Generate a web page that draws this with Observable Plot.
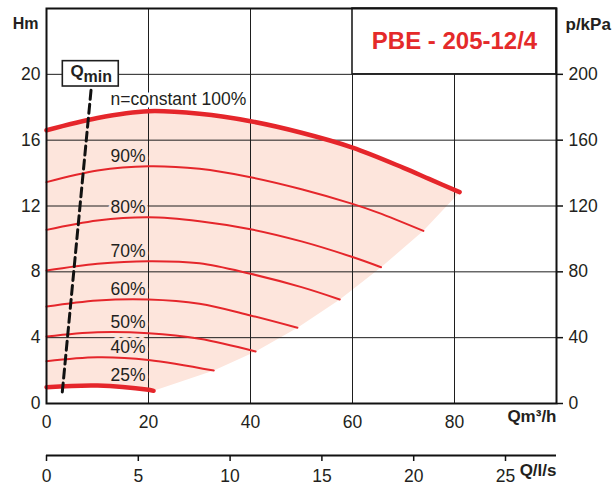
<!DOCTYPE html>
<html><head><meta charset="utf-8">
<script src="https://cdn.jsdelivr.net/npm/d3@7"></script>
<script src="https://cdn.jsdelivr.net/npm/@observablehq/plot@0.6"></script>
<style>body{margin:0;background:#fff;} svg{display:block}</style>
</head><body><div id="chart"></div>
<script>
// ---- data ----
const flowTicks = [0, 20, 40, 60, 80];          // Q m³/h
const litreTicks = [0, 5, 10, 15, 20, 25];      // Q l/s
const headTicks = [0, 4, 8, 12, 16, 20];        // H m
const kpaTicks = [0, 40, 80, 120, 160, 200];    // p kPa
const speedLabels = ["100%", "90%", "80%", "70%", "60%", "50%", "40%", "25%"];

// pump curves [Q m³/h, H m]
const curve100 = [[0,16.6],[10,17.35],[20,17.76],[30,17.6],[40,17.15],[50,16.45],[60,15.55],[70,14.32],[75,13.65],[81,12.84]];
const curve90  = [[0,13.45],[10,14.16],[20,14.42],[30,14.26],[40,13.75],[50,13.02],[60,12.13],[65,11.6],[73.9,10.49]];
const curve80  = [[0,10.55],[10,11.12],[20,11.32],[30,11.08],[40,10.59],[50,9.85],[60,8.9],[65.6,8.28]];
const curve70  = [[0,8.08],[10,8.49],[20,8.65],[30,8.52],[40,7.88],[50,7.07],[57.5,6.32]];
const curve60  = [[0,5.89],[10,6.26],[20,6.32],[30,6.06],[40,5.35],[49.2,4.6]];
const curve50  = [[0,4.07],[10,4.33],[20,4.27],[30,3.93],[41,3.16]];
const curve40  = [[0,2.57],[10,2.81],[20,2.65],[32.8,2.0]];
const curve25  = [[0,0.99],[10,1.09],[20,0.83],[21,0.77]];
// Qmin line [Q, H]
const qminLine = [[3.1,0.7],[8.8,19.26]];

const curves = [curve100, curve90, curve80, curve70, curve60, curve50, curve40, curve25];
const lineData = curves.flatMap((c, i) => c.map(([q, h]) => ({q, h, speed: speedLabels[i], thick: i === 0 || i === curves.length - 1})));

// pink operating area: top curve, end points of the reduced curves, lowest curve back
const poly = [
  ...curve100,
  ...curves.slice(1).map(c => c[c.length - 1]),
  ...curve25.slice(0, -1).reverse()
].map(([q, h]) => ({q, h}));

const labelData = curves.slice(1).map((c, i) => ({t: speedLabels[i + 1], h: d3.max(c, d => d[1])}));
const topLabel = [{t: "n=constant 100%", h: d3.max(curve100, d => d[1])}];

const RED = "#e5262b", PINK = "#fde5dc", INK = "#231f20", GRID = "#1e1e1e";
const FONT = "'Liberation Sans', Arial, Helvetica, sans-serif";

const chart = Plot.plot({
  width: 612, height: 486,
  marginLeft: 46, marginRight: 56, marginTop: 8, marginBottom: 83,
  x: {domain: [0, 100], axis: null},
  y: {domain: [0, 24], axis: null},
  style: {fontFamily: FONT, fontSize: "17.5px", color: INK, background: "#fff"},
  marks: [
    Plot.line(poly, {x: "q", y: "h", fill: PINK, stroke: "none", curve: "linear"}),
    Plot.gridX(flowTicks.slice(1), {stroke: GRID, strokeOpacity: 1, strokeWidth: 1}),
    Plot.gridY(headTicks.slice(1), {stroke: GRID, strokeOpacity: 1, strokeWidth: 1}),
    // PBE box
    Plot.rect([{}], {x1: 60, x2: 100, y1: 20, y2: 24, fill: "#fff", stroke: GRID, strokeWidth: 1.6}),
    Plot.text(["PBE - 205-12/4"], {x: 80, y: 22, text: d => d, fill: "#e42a2a", fontWeight: "bold", fontSize: 24}),
    // speed labels
    Plot.text(labelData, {x: 20, y: "h", text: "t", dx: -3, dy: -10, textAnchor: "end", fill: INK, stroke: PINK, strokeWidth: 6}),
    Plot.text(topLabel, {x: 20, y: "h", text: "t", dx: -38, dy: -11.5, textAnchor: "start", fill: INK, stroke: "#fff", strokeWidth: 6}),
    // curves
    Plot.line(lineData.filter(d => !d.thick), {x: "q", y: "h", z: "speed", stroke: RED, strokeWidth: 2, curve: "catmull-rom"}),
    Plot.line(lineData.filter(d => d.thick), {x: "q", y: "h", z: "speed", stroke: RED, strokeWidth: 4.5, curve: "catmull-rom"}),
    // Qmin
    Plot.line(qminLine, {x: d => d[0], y: d => d[1], stroke: "#111", strokeWidth: 3, strokeDasharray: "9,5"}),
    Plot.rect([{}], {x1: 3.2, x2: 14.17, y1: 19.26, y2: 20.8, fill: "#fff", stroke: GRID, strokeWidth: 1.6}),
    Plot.text(["Q"], {x: 4.7, y: 20.17, text: d => d, textAnchor: "start", fontWeight: "bold", fontSize: 17, fill: INK}),
    Plot.text(["min"], {x: 4.7, y: 20.17, text: d => d, dx: 13, dy: 5, textAnchor: "start", fontWeight: "bold", fontSize: 16, fill: INK}),
    // frame & axes
    Plot.frame({stroke: "#111", strokeWidth: 2}),
    Plot.axisY(headTicks, {anchor: "left", tickSize: 0, tickPadding: 6, label: null}),
    Plot.axisY(kpaTicks, {y: d => d / 10, anchor: "right", tickSize: 6, tickPadding: 6, stroke: "#111", strokeWidth: 1.5, tickFormat: d => d, label: null}),
    Plot.axisX(flowTicks, {anchor: "bottom", tickSize: 0, tickPadding: 12, label: null}),
    Plot.ruleY([0], {dy: 52, stroke: "#111", strokeWidth: 2}),
    Plot.axisX(litreTicks, {x: d => d * 3.6, anchor: "bottom", tickSize: 6, tickPadding: 8.5, dy: 52, stroke: "#111", strokeWidth: 1.5, tickFormat: d => d, label: null}),
    // unit labels
    Plot.text(["Hm"], {frameAnchor: "top-left", text: d => d, dx: -8, dy: 9.5, textAnchor: "end", fontWeight: "bold", fontSize: 16}),
    Plot.text(["p/kPa"], {frameAnchor: "top-right", text: d => d, dx: 9, dy: 9, textAnchor: "start", fontWeight: "bold", fontSize: 17}),
    Plot.text(["Qm³/h"], {frameAnchor: "bottom-right", text: d => d, dy: 18, textAnchor: "end", fontWeight: "bold", fontSize: 17}),
    Plot.text(["Q/l/s"], {frameAnchor: "bottom-right", text: d => d, dy: 72.5, textAnchor: "end", fontWeight: "bold", fontSize: 17})
  ]
});
document.getElementById("chart").appendChild(chart);
</script>
</body></html>
